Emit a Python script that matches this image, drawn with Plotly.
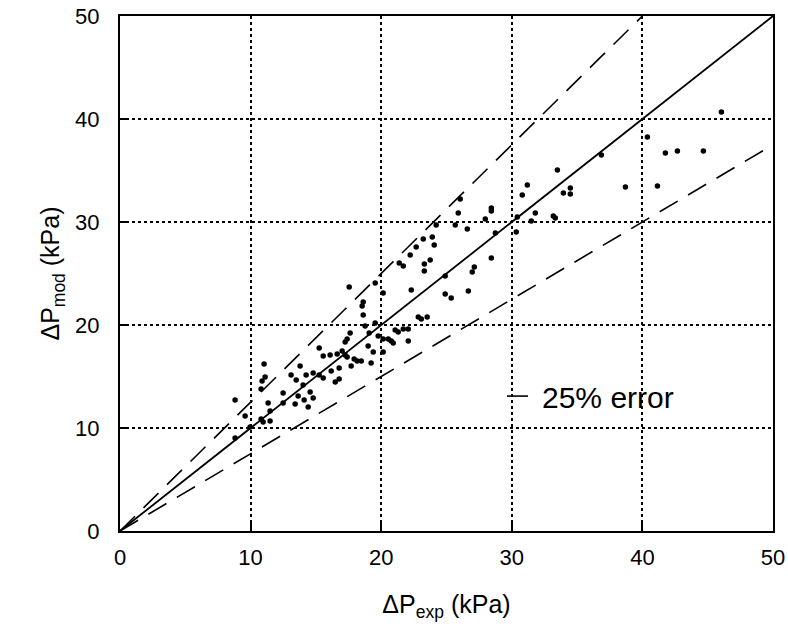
import plotly.graph_objects as go

dp_exp = [8.81, 8.81, 9.58, 9.96, 10.80, 10.88, 11.11, 11.03, 10.80, 10.96,
          11.49, 11.49, 11.34, 12.49, 12.49, 13.10, 13.41, 13.79, 14.25, 14.79,
          15.25, 15.25, 15.56, 16.09, 16.63, 17.01, 17.24, 17.39, 16.78, 17.70,
          16.78, 17.93, 18.16, 17.62, 17.39, 17.24, 17.55, 18.62, 18.54, 18.62,
          18.77, 18.47, 19.23, 19.00, 19.39, 20.15, 19.08, 19.77, 20.15, 20.54,
          20.77, 20.92, 21.07, 21.30, 21.69, 22.07, 22.07, 19.54, 19.54, 20.15,
          22.30, 22.84, 23.07, 23.52, 23.30, 24.90, 24.90, 25.36, 26.67,
          13.49, 14.02, 13.64, 14.10, 14.56, 14.79, 15.56, 16.17, 16.48, 14.41,
          21.38, 21.69, 22.22, 22.68, 23.22, 23.30, 23.75, 23.91, 24.06, 24.21,
          25.90, 25.67, 26.05, 26.59, 26.97, 27.13, 27.97, 28.43, 28.43, 28.43,
          28.74, 30.34, 30.42, 30.80, 31.19, 31.49, 31.80, 33.18, 33.33, 33.49,
          33.95, 34.48, 34.48, 36.86, 38.70, 40.38, 41.15, 41.76, 42.68, 44.67,
          46.05]
dp_mod = [12.72, 9.03, 11.17, 10.10, 13.79, 14.56, 14.95, 16.21, 10.87, 10.58,
          10.68, 11.65, 12.43, 12.43, 13.40, 15.15, 12.33, 16.02, 15.15, 15.34,
          15.15, 17.77, 16.99, 17.09, 17.18, 17.48, 17.09, 16.89, 15.83, 16.02,
          14.76, 16.70, 16.50, 19.22, 18.64, 18.35, 23.69, 22.23, 21.84, 20.97,
          19.90, 16.50, 16.31, 17.96, 17.38, 17.38, 19.22, 18.93, 18.64, 18.64,
          18.45, 18.25, 19.51, 19.32, 19.61, 19.61, 18.45, 20.19, 24.08, 23.11,
          23.40, 20.78, 20.58, 20.78, 25.24, 24.76, 23.01, 22.62, 23.30,
          14.66, 14.17, 13.11, 12.72, 13.50, 12.91, 14.85, 15.53, 14.47, 12.04,
          26.02, 25.73, 26.80, 27.57, 28.35, 25.92, 26.31, 28.54, 27.77, 29.71,
          30.87, 29.71, 32.23, 29.32, 25.15, 25.63, 30.29, 31.36, 31.07, 26.50,
          28.93, 29.03, 30.49, 32.62, 33.59, 30.10, 30.87, 30.58, 30.39, 35.05,
          32.82, 33.30, 32.72, 36.50, 33.40, 38.25, 33.50, 36.70, 36.89, 36.89,
          40.68]

parity = [0, 50]
upper_err = [0, 40]   # +25 %
lower_err = [0, 50]   # -25 %
err = 0.25
legend_label = "25% error"

fig = go.Figure()

fig.add_trace(go.Scatter(x=parity, y=parity, mode="lines",
                         line=dict(color="black", width=1.8), showlegend=False))
fig.add_trace(go.Scatter(x=upper_err, y=[v * (1 + err) for v in upper_err], mode="lines",
                         line=dict(color="black", width=1.6, dash="21px,12px"),
                         name=legend_label, showlegend=True))
fig.add_trace(go.Scatter(x=lower_err, y=[v * (1 - err) for v in lower_err], mode="lines",
                         line=dict(color="black", width=1.6, dash="21px,12px"),
                         showlegend=False))
fig.add_trace(go.Scatter(x=dp_exp, y=dp_mod, mode="markers",
                         marker=dict(color="black", size=5.5), showlegend=False))

font = "Liberation Sans, Arial, sans-serif"
axis = dict(range=[0, 50], dtick=10, showline=True, linecolor="black", linewidth=2,
            mirror=True, ticks="inside", ticklen=9, tickwidth=1.5, tickcolor="black",
            showgrid=True, gridcolor="black", gridwidth=1.5, griddash="dot",
            zeroline=False, automargin=False,
            tickfont=dict(family=font, size=22, color="black"))

fig.update_layout(
    width=788, height=643,
    margin=dict(l=120, r=15, t=16, b=112),
    plot_bgcolor="white", paper_bgcolor="white",
    font=dict(family=font, color="black"),
    xaxis=dict(axis, title=dict(text="ΔP<sub>exp</sub> (kPa)", font=dict(size=25), standoff=26),
               ticklabelstandoff=6),
    yaxis=dict(axis, title=dict(text="ΔP<sub>mod</sub> (kPa)", font=dict(size=25), standoff=8),
               ticklabelstandoff=14),
    legend=dict(x=0.585, y=0.262, xanchor="left", yanchor="middle", bgcolor="rgba(0,0,0,0)",
                font=dict(size=30), itemwidth=30),
)

# drop the browser's default 8px body margin so the figure sits at the page corner
fig.write_html("out.html", config={"displayModeBar": False},
               post_script="document.body.style.margin='0';")
